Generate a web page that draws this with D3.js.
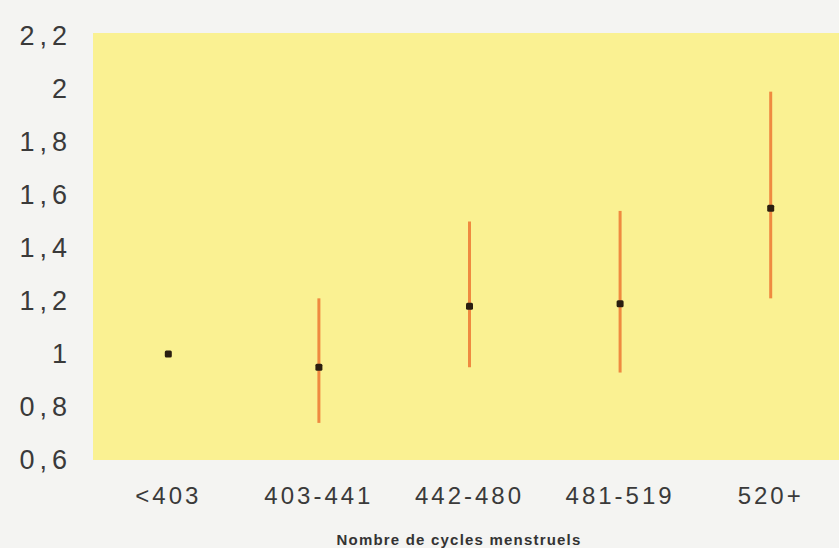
<!DOCTYPE html>
<html><head><meta charset="utf-8">
<script src="https://cdn.jsdelivr.net/npm/d3@7/dist/d3.min.js"></script>
<style>
html,body{margin:0;padding:0;background:#f4f4f2;}
svg{display:block;}
</style></head>
<body>
<svg id="chart" width="839" height="548"></svg>
<script>
const categories = ["<403", "403-441", "442-480", "481-519", "520+"];
const estimates = [1.00, 0.95, 1.18, 1.19, 1.55];
const lowerCI = [null, 0.74, 0.95, 0.93, 1.21];
const upperCI = [null, 1.21, 1.50, 1.54, 1.99];
const yTicks = [0.6, 0.8, 1, 1.2, 1.4, 1.6, 1.8, 2, 2.2];
const xTitle = "Nombre de cycles menstruels";

const svg = d3.select("#chart");
const mLeft = 93, mRight = 846, mTop = 36, mBottom = 460;

const x = d3.scaleBand().domain(categories).range([mLeft, mRight]);
const y = d3.scaleLinear().domain([0.6, 2.2]).range([mBottom, mTop]);

svg.append("rect")
  .attr("x", mLeft).attr("y", mTop - 3)
  .attr("width", 839 - mLeft).attr("height", mBottom - mTop + 3)
  .attr("fill", "#faf192");

const fmt = d => String(d).replace(".", ",");

const yAxis = svg.append("g")
  .attr("transform", `translate(${mLeft},0)`)
  .call(d3.axisLeft(y).tickValues(yTicks).tickFormat(fmt).tickSize(0).tickPadding(21));
yAxis.select(".domain").remove();
yAxis.selectAll("text")
  .attr("font-family", "'Liberation Sans', Arial, sans-serif")
  .attr("font-size", 27).attr("letter-spacing", 5).attr("fill", "#3a3a3a");

const xAxis = svg.append("g")
  .attr("transform", `translate(0,${mBottom})`)
  .call(d3.axisBottom(x).tickSize(0).tickPadding(27));
xAxis.select(".domain").remove();
xAxis.selectAll("text")
  .attr("font-family", "'Liberation Sans', Arial, sans-serif")
  .attr("font-size", 24).attr("letter-spacing", 3).attr("fill", "#3a3a3a");

const data = categories.map((c, i) => ({c, est: estimates[i], lo: lowerCI[i], hi: upperCI[i]}));
const cx = d => x(d.c) + x.bandwidth() / 2;

svg.append("g").selectAll("line")
  .data(data.filter(d => d.lo !== null))
  .join("line")
  .attr("x1", cx).attr("x2", cx)
  .attr("y1", d => y(d.lo)).attr("y2", d => y(d.hi))
  .attr("stroke", "#ef8a40").attr("stroke-width", 3);

svg.append("g").selectAll("rect")
  .data(data)
  .join("rect")
  .attr("x", d => cx(d) - 3.5).attr("y", d => y(d.est) - 3.5)
  .attr("width", 7).attr("height", 7).attr("rx", 1.5)
  .attr("fill", "#2a1e10");

svg.append("text")
  .attr("x", 459).attr("y", 545)
  .attr("text-anchor", "middle")
  .attr("font-family", "'Liberation Sans', Arial, sans-serif")
  .attr("font-size", 15).attr("font-weight", "bold").attr("letter-spacing", 1.2)
  .attr("fill", "#333")
  .text(xTitle);
</script>
</body></html>
